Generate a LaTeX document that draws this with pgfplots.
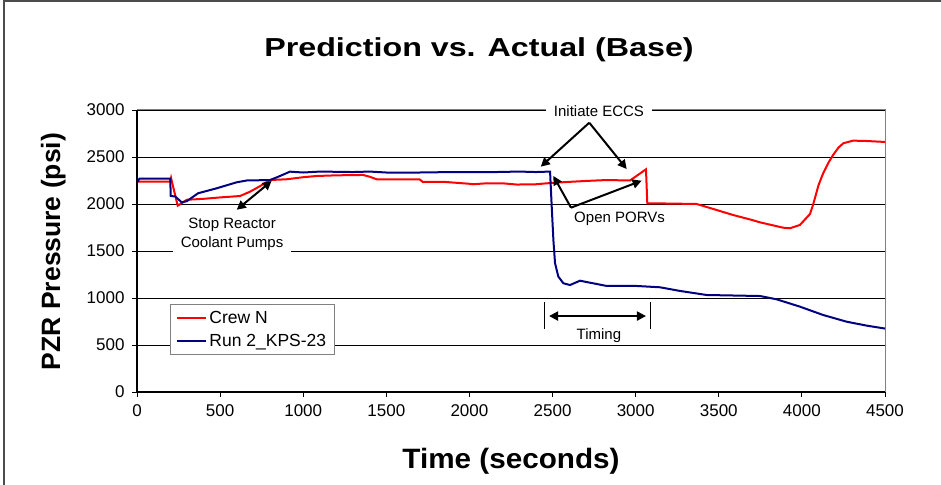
\documentclass[border=0pt]{standalone}
\usepackage{fontspec}
\setmainfont{Liberation Sans}
\newfontfamily\titlefont[FakeStretch=1.24]{Liberation Sans}
\newfontfamily\xlabfont[FakeStretch=1.06]{Liberation Sans}
\usepackage{pgfplots}
\pgfplotsset{compat=1.18}
\usetikzlibrary{arrows.meta}
\definecolor{crewred}{RGB}{255,0,0}
\definecolor{runblue}{RGB}{0,0,128}
\begin{document}
\begin{tikzpicture}
\path[use as bounding box] (0,0) rectangle (941bp,485bp);
\draw[black!70, line width=1.5bp] (4bp,0bp) -- (4bp,484bp) -- (941bp,484bp);
\begin{axis}[
  at={(137bp,93bp)}, anchor=south west,
  scale only axis, width=748bp, height=282bp,
  xmin=0, xmax=4500, ymin=0, ymax=3000,
  xtick={0,500,...,4500}, ytick={0,500,...,3000},
  ymajorgrids, grid style={black, line width=0.8bp},
  axis line style={gray, line width=1bp},
  tick align=outside, xtick pos=bottom, ytick pos=left,
  major tick length=5bp, tick style={black, line width=0.8bp},
  ticklabel style={font=\fontsize{17bp}{20bp}\selectfont},
  yticklabel style={xshift=-4bp},
  xticklabel style={yshift=-4bp},
  /pgf/number format/assume math mode=true,
  /pgf/number format/1000 sep={},
  legend style={at={(0.0441,0.311)}, anchor=north west, draw=gray, line width=1bp, fill=white,
    font=\fontsize{17.5bp}{21bp}\selectfont, inner xsep=6bp, inner ysep=4bp, row sep=6bp},
  legend cell align=left,
  legend image code/.code={\draw[#1, line width=2bp] (0bp,0bp) -- (29bp,0bp);},
  clip=false,
]
\addplot[crewred, line width=2bp] coordinates {
(0,2238) (200,2238) (205,2277) (215,2200) (245,1982) (270,2010) (300,2045) (400,2055)
(500,2070) (620,2085) (680,2131) (740,2190) (800,2255) (900,2263) (1000,2285) (1081,2298)
(1200,2305) (1360,2309) (1400,2290) (1442,2263) (1600,2262) (1700,2262) (1720,2234) (1850,2235)
(2000,2215) (2022,2210) (2100,2220) (2200,2220) (2285,2207) (2400,2210) (2465,2220) (2585,2234)
(2700,2245) (2826,2255) (2966,2250) (3062,2369) (3070,2007) (3200,2005) (3367,2000) (3480,1940)
(3586,1883) (3700,1830) (3748,1805) (3887,1748) (3928,1742) (3988,1777) (4049,1894) (4067,1990)
(4100,2200) (4128,2327) (4160,2440) (4188,2522) (4220,2600) (4249,2646) (4308,2674) (4392,2670)
(4500,2660)};
\addlegendentry{Crew N}
\addplot[runblue, line width=2bp] coordinates {
(0,2230) (15,2270) (200,2270) (203,2085) (230,2080) (269,2018) (300,2030) (367,2114)
(479,2167) (600,2231) (660,2250) (800,2255) (850,2290) (920,2344) (1000,2335) (1100,2345)
(1300,2340) (1400,2345) (1500,2335) (1700,2335) (1900,2340) (2100,2338) (2300,2345) (2400,2340)
(2485,2345) (2495,1972) (2505,1617) (2515,1369) (2535,1227) (2565,1157) (2605,1138) (2665,1184)
(2725,1163) (2826,1128) (2986,1130) (3146,1114) (3267,1075) (3427,1032) (3748,1021) (3848,986)
(3988,908) (4128,819) (4269,748) (4390,706) (4500,675)};
\addlegendentry{Run 2\_KPS-23}
\draw[black, line width=1.2bp] (rel axis cs:0,1) -- (rel axis cs:0,0) -- (rel axis cs:1,0);
% annotations
\tikzset{ann/.style={black, line width=2bp, -{Triangle[length=9bp,width=9bp]}}}
\draw[black, line width=2bp, {Triangle[length=9bp,width=9bp]}-{Triangle[length=9bp,width=9bp]}]
  (axis cs:600,1939) -- (axis cs:810,2245);
\node[fill=white, align=center, inner xsep=8bp, inner ysep=2bp, font=\fontsize{15bp}{19bp}\selectfont]
  at (axis cs:572,1681) {Stop Reactor\\Coolant Pumps};
\node[fill=white, inner xsep=8bp, inner ysep=2bp, font=\fontsize{15bp}{18bp}\selectfont]
  at (axis cs:2779,2990) {Initiate ECCS};
\draw[ann] (axis cs:2721,2865) -- (axis cs:2429,2397);
\draw[ann] (axis cs:2721,2865) -- (axis cs:2946,2372);
\node[inner sep=2bp, font=\fontsize{15bp}{18bp}\selectfont]
  at (axis cs:2903,1840) {Open PORVs};
\draw[ann] (axis cs:2611,1961) -- (axis cs:2505,2298);
\draw[ann] (axis cs:2611,1961) -- (axis cs:3036,2248);
\draw[black, line width=1bp] (axis cs:2450,957) -- (axis cs:2450,670);
\draw[black, line width=1bp] (axis cs:3088,957) -- (axis cs:3088,670);
\draw[black, line width=2bp, {Triangle[length=9bp,width=9bp]}-{Triangle[length=9bp,width=9bp]}]
  (axis cs:2479,808) -- (axis cs:3062,808);
\node[fill=white, inner xsep=14bp, inner ysep=2bp, font=\fontsize{15bp}{18bp}\selectfont]
  at (axis cs:2779,596) {Timing};
\end{axis}
\node[anchor=base] at (479bp,428.3bp) {\titlefont\fontsize{26bp}{30bp}\bfseries Prediction vs. Actual (Base)};
\node[anchor=base] at (511bp,16.7bp) {\xlabfont\fontsize{28bp}{32bp}\bfseries Time (seconds)};
\node[rotate=90, anchor=base] at (60bp,233.5bp) {\fontsize{26.5bp}{30bp}\bfseries PZR Pressure (psi)};
\end{tikzpicture}
\end{document}
